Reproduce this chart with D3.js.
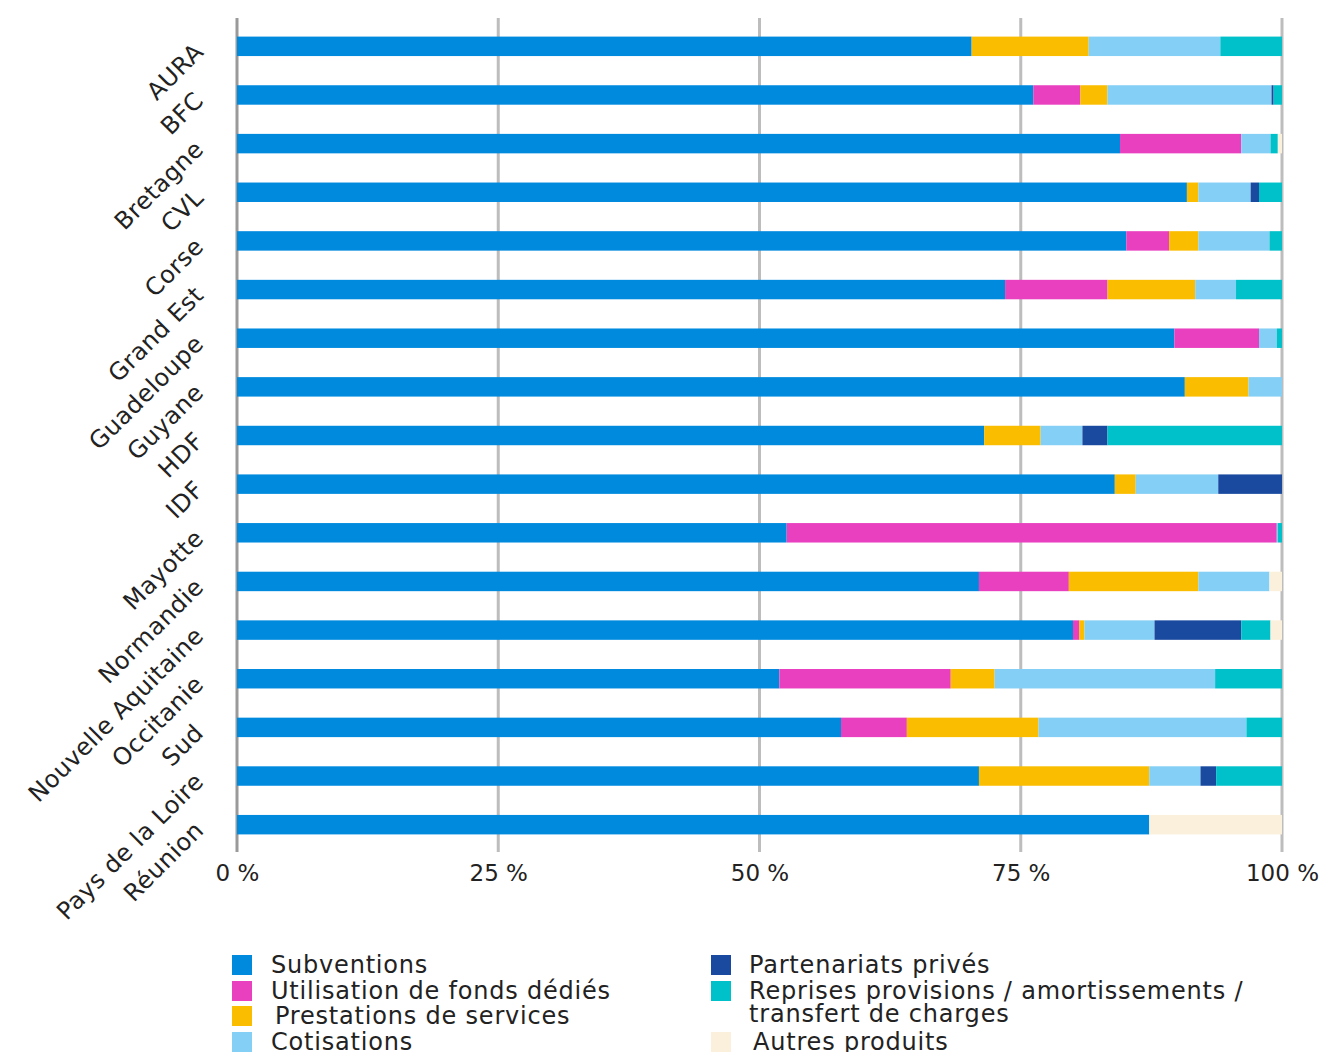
<!DOCTYPE html>
<html><head><meta charset="utf-8">
<script src="https://cdn.jsdelivr.net/npm/d3@7"></script>
<style>body{margin:0;background:#fff;} svg{display:block;font-family:"DejaVu Sans",sans-serif;}</style>
</head><body>
<svg id="c" width="1326" height="1052"></svg>
<script>
const categories = ["AURA","BFC","Bretagne","CVL","Corse","Grand Est","Guadeloupe","Guyane","HDF","IDF","Mayotte","Normandie","Nouvelle Aquitaine","Occitanie","Sud","Pays de la Loire","Réunion"];
const seriesNames = ["Subventions","Utilisation de fonds dédiés","Prestations de services","Cotisations","Partenariats privés","Reprises provisions / amortissements / transfert de charges","Autres produits"];
const subventions   = [70.3,76.2,84.5,90.9,85.1,73.5,89.7,90.7,71.5,84.0,52.6,71.0,80.0,51.9,57.8,71.0,87.3];
const fondsDedies   = [0,4.5,11.6,0,4.1,9.8,8.1,0,0,0,46.9,8.6,0.6,16.4,6.3,0,0];
const prestations   = [11.2,2.6,0,1.1,2.8,8.4,0,6.1,5.4,2.0,0,12.4,0.5,4.2,12.6,16.3,0];
const cotisations   = [12.6,15.7,2.8,5.0,6.8,3.9,1.7,3.2,4.0,7.9,0.1,6.8,6.7,21.1,19.9,4.9,0];
const partenariats  = [0,0.2,0,0.8,0,0,0,0,2.4,6.1,0,0,8.3,0,0,1.5,0];
const reprises      = [5.9,0.8,0.7,2.2,1.2,4.4,0.5,0,16.7,0,0.4,0,2.8,6.4,3.4,6.3,0];
const autres        = [0,0,0.4,0,0,0,0,0,0,0,0,1.2,1.1,0,0,0,12.7];
const tickValues = [0,25,50,75,100];
const tickLabels = ["0 %","25 %","50 %","75 %","100 %"];
const colors = ["#008ADE","#E940C0","#FABD00","#84CFF5","#1A4AA0","#00C0CA","#FBF0DC"];

const seriesArrays = [subventions,fondsDedies,prestations,cotisations,partenariats,reprises,autres];
const keys = seriesNames;
const rows = categories.map((c,i)=>{const o={cat:c}; keys.forEach((k,j)=>o[k]=seriesArrays[j][i]); return o;});
const stacked = d3.stack().keys(keys)(rows);

const svg = d3.select("#c");
const x = d3.scaleLinear().domain([0,100]).range([237,1282]);
const y = d3.scaleBand().domain(categories).range([22,849]).paddingInner(0.6).paddingOuter(0.3);
const color = d3.scaleOrdinal().domain(keys).range(colors);

// gridlines
svg.append("g").selectAll("line").data(tickValues).join("line")
  .attr("x1",d=>x(d)).attr("x2",d=>x(d)).attr("y1",18).attr("y2",852)
  .attr("stroke",d=>d===0?"#9a9a9a":"#bdbdbd").attr("stroke-width",3);

// bars
svg.append("g").selectAll("g").data(stacked).join("g").attr("fill",d=>color(d.key))
  .selectAll("rect").data(d=>d).join("rect")
  .attr("x",d=>x(d[0])).attr("width",d=>Math.max(0,x(d[1])-x(d[0])))
  .attr("y",d=>y(d.data.cat)).attr("height",y.bandwidth());

// x axis labels
const xAxis = d3.axisBottom(x).tickValues(tickValues).tickFormat((d,i)=>tickLabels[i]).tickSize(0).tickPadding(0);
const gx = svg.append("g").attr("transform","translate(0,881)").call(xAxis);
gx.select(".domain").remove();
gx.selectAll("text").attr("font-size",23).attr("fill","#222").attr("font-family","DejaVu Sans").attr("dy","0");

// y labels
const gy = svg.append("g");
gy.selectAll("text").data(categories).join("text")
  .attr("transform",d=>`translate(205,${y(d)+y.bandwidth()/2+7}) rotate(-45)`)
  .attr("text-anchor","end").attr("font-size",24).attr("letter-spacing",0.5).attr("fill","#222").text(d=>d);

// legend
const leg = [
  {k:0,x:232,y:955,tx:271,lines:["Subventions"]},
  {k:1,x:232,y:981,tx:271,lines:["Utilisation de fonds dédiés"]},
  {k:2,x:232,y:1006,tx:275,lines:["Prestations de services"]},
  {k:3,x:232,y:1032,tx:271,lines:["Cotisations"]},
  {k:4,x:711,y:955,tx:749,lines:["Partenariats privés"]},
  {k:5,x:711,y:981,tx:749,lines:["Reprises provisions / amortissements /","transfert de charges"]},
  {k:6,x:711,y:1032,tx:753,lines:["Autres produits"]}
];
const lg = svg.append("g");
leg.forEach(l=>{
  lg.append("rect").attr("x",l.x).attr("y",l.y).attr("width",20).attr("height",20).attr("fill",colors[l.k]);
  const t = lg.append("text").attr("x",l.tx).attr("y",l.y+18).attr("font-size",24).attr("letter-spacing",0.8).attr("fill","#222");
  l.lines.forEach((s,i)=>t.append("tspan").attr("x",l.tx).attr("dy",i===0?0:23).text(s));
});
</script>
</body></html>
